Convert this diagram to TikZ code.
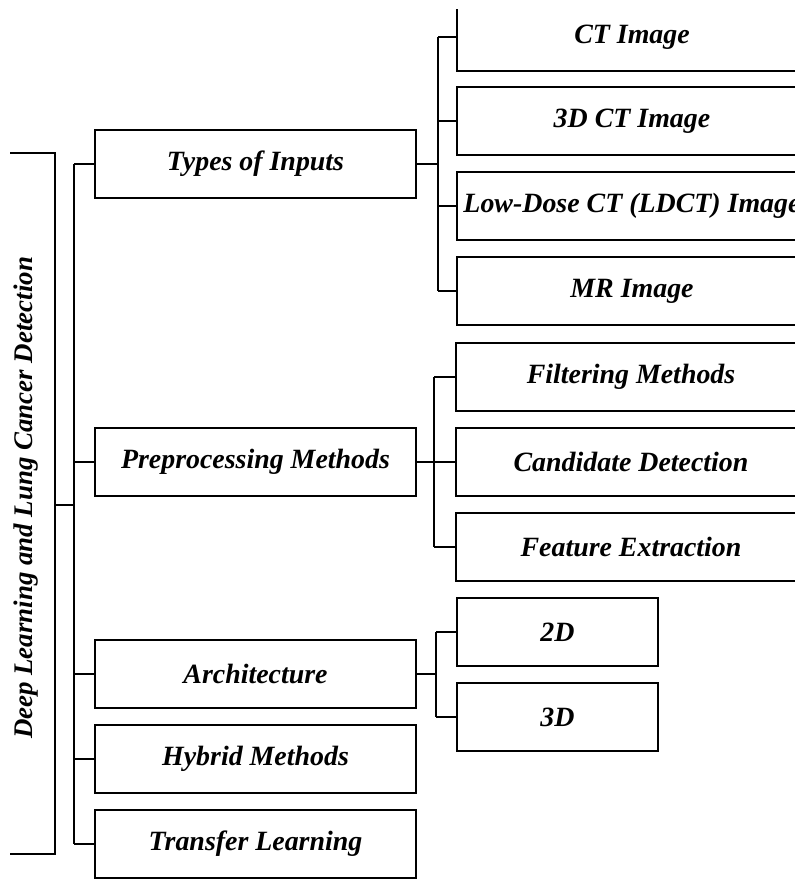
\documentclass[tikz,border=0pt]{standalone}
\usepackage{fontspec}
\setmainfont{Liberation Serif}
\begin{document}
\begin{tikzpicture}[x=1bp,y=-1bp,
  line width=2.2bp, line join=miter,
  lbl/.style={font=\fontsize{28}{31}\selectfont\bfseries\itshape},
  boxone/.style={lbl, draw, minimum width=321bp, minimum height=68bp, inner sep=0pt},
  boxtwo/.style={lbl, draw, minimum width=350bp, minimum height=68bp, inner sep=0pt},
  boxsmall/.style={lbl, draw, minimum width=201bp, minimum height=68bp, inner sep=0pt}]
\useasboundingbox (0,0) rectangle (795,889);
\begin{scope}
\clip (0,9) rectangle (795,889);
% level 1
\node[boxone] (types) at (255.5,164) {Types of Inputs};
\node[boxone] (prep) at (255.5,462) {Preprocessing Methods};
\node[boxone] (arch) at (255.5,674) {Architecture};
\node[boxone] (hybrid) at (255.5,759) {Hybrid Methods};
\node[boxone] (transfer) at (255.5,844) {Transfer Learning};
% level 2 inputs
\node[boxtwo] (ct) at (632,37) {CT Image};
\node[boxtwo] (ct3) at (632,121) {3D CT Image};
\node[boxtwo] (ldct) at (632,206) {Low-Dose CT (LDCT) Image};
\node[boxtwo] (mr) at (632,291) {MR Image};
% level 2 preprocessing
\node[boxtwo] (filt) at (631,377) {Filtering Methods};
\node[boxtwo] (cand) at (631,462) {Candidate Detection};
\node[boxtwo] (feat) at (631,547) {Feature Extraction};
% level 2 architecture
\node[boxsmall] (d2) at (557.5,632) {2D};
\node[boxsmall] (d3) at (557.5,717) {3D};
% title
\node[font=\fontsize{27}{30}\selectfont\bfseries\itshape, rotate=90] (title) at (26,498) {Deep Learning and Lung Cancer Detection};
% root bracket
\coordinate (rtop) at (10,153);
\coordinate (rbot) at (10,854);
\coordinate (rc) at (55,505);
\coordinate (b1) at (74,505);
\draw (rtop) -- (rtop -| rc) -- (rbot -| rc) -- (rbot);
\draw (rc) -- (b1);
\foreach \n in {types,prep,arch,hybrid,transfer} \draw (\n.west) -- (\n.west -| b1);
\draw (types.west -| b1) -- (transfer.west -| b1);
% inputs bus
\coordinate (b2) at (438,164);
\draw (types.east) -- (b2);
\foreach \n in {ct,ct3,ldct,mr} \draw (\n.west) -- (\n.west -| b2);
\draw (ct.west -| b2) -- (mr.west -| b2);
% preprocessing bus
\coordinate (b3) at (434,462);
\draw (prep.east) -- (b3);
\foreach \n in {filt,cand,feat} \draw (\n.west) -- (\n.west -| b3);
\draw (filt.west -| b3) -- (feat.west -| b3);
% architecture bus
\coordinate (b4) at (436,674);
\draw (arch.east) -- (b4);
\foreach \n in {d2,d3} \draw (\n.west) -- (\n.west -| b4);
\draw (d2.west -| b4) -- (d3.west -| b4);
\end{scope}
\end{tikzpicture}
\end{document}
